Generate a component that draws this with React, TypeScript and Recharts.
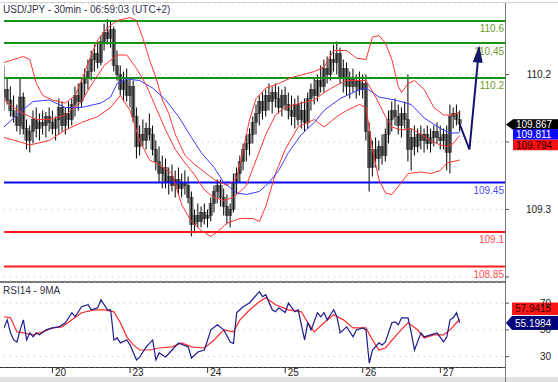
import React from "react";
import { ComposedChart, Bar, Line, XAxis, YAxis, CartesianGrid, ReferenceLine } from "recharts";

// hourly bars (index 0 = first bar on the 19th)
const opens = [
  110.05, 110.10, 110.03, 109.96, 109.92, 109.86, 110.05, 109.84, 109.76, 109.82,
  109.90, 109.84, 109.88, 109.86, 109.92, 109.88, 109.84, 109.90, 109.98, 109.86,
  109.94, 109.90, 110.00, 110.06, 110.02, 110.14, 110.18, 110.22, 110.30, 110.34,
  110.28, 110.42, 110.48, 110.44, 110.50, 110.26, 110.20, 110.10, 110.16, 110.06,
  110.12, 109.92, 109.72, 109.80, 109.76, 109.84, 109.80, 109.70, 109.62, 109.54,
  109.58, 109.48, 109.52, 109.46, 109.50, 109.44, 109.48, 109.46, 109.38, 109.20,
  109.26, 109.22, 109.28, 109.24, 109.26, 109.34, 109.42, 109.46, 109.38, 109.32,
  109.26, 109.30, 109.48, 109.54, 109.62, 109.70, 109.74, 109.80, 109.88, 109.94,
  110.02, 109.96, 110.06, 110.02, 110.08, 110.04, 109.98, 110.06, 110.00, 109.96,
  109.92, 110.00, 109.90, 109.96, 109.88, 110.04, 110.10, 110.06, 110.16, 110.12,
  110.24, 110.20, 110.30, 110.28, 110.34, 110.18, 110.24, 110.12, 110.18, 110.12,
  110.16, 110.10, 110.14, 109.82, 109.58, 109.70, 109.64, 109.72, 109.66, 109.80,
  109.90, 109.96, 109.92, 109.86, 109.94, 109.90, 109.70, 109.78, 109.72, 109.80,
  109.76, 109.80, 109.74, 109.78, 109.82, 109.78, 109.76, 109.80, 109.68, 109.92,
  109.94, 109.90,
];
const highs = [
  110.26, 110.18, 110.12, 110.06, 110.00, 110.18, 110.08, 109.90, 109.86, 109.96,
  109.98, 109.94, 109.96, 109.95, 109.98, 109.96, 109.92, 110.04, 110.02, 109.98,
  110.02, 110.04, 110.12, 110.14, 110.18, 110.24, 110.30, 110.36, 110.40, 110.42,
  110.46, 110.54, 110.57, 110.55, 110.52, 110.36, 110.26, 110.22, 110.24, 110.18,
  110.16, 109.98, 109.86, 109.90, 109.88, 109.94, 109.86, 109.76, 109.72, 109.66,
  109.64, 109.58, 109.60, 109.56, 109.58, 109.54, 109.56, 109.52, 109.42, 109.30,
  109.34, 109.32, 109.34, 109.30, 109.38, 109.46, 109.50, 109.50, 109.44, 109.40,
  109.34, 109.54, 109.58, 109.66, 109.74, 109.80, 109.84, 109.92, 110.00, 110.06,
  110.08, 110.10, 110.14, 110.12, 110.14, 110.12, 110.10, 110.12, 110.08, 110.06,
  110.04, 110.06, 110.02, 110.04, 110.08, 110.14, 110.18, 110.20, 110.26, 110.30,
  110.32, 110.36, 110.40, 110.42, 110.38, 110.30, 110.28, 110.22, 110.24, 110.20,
  110.22, 110.20, 110.20, 109.88, 109.76, 109.78, 109.76, 109.80, 109.84, 109.96,
  110.02, 110.04, 110.00, 109.98, 110.02, 110.20, 109.84, 109.86, 109.84, 109.86,
  109.84, 109.86, 109.84, 109.86, 109.88, 109.86, 109.84, 109.86, 110.00, 109.98,
  110.00, 109.96,
];
const lows = [
  109.96, 110.00, 109.92, 109.88, 109.82, 109.80, 109.80, 109.70, 109.68, 109.74,
  109.78, 109.76, 109.80, 109.78, 109.82, 109.80, 109.76, 109.80, 109.82, 109.80,
  109.84, 109.86, 109.92, 109.96, 109.98, 110.06, 110.10, 110.16, 110.22, 110.24,
  110.26, 110.36, 110.40, 110.38, 110.22, 110.16, 110.06, 110.02, 110.02, 109.98,
  109.88, 109.64, 109.66, 109.72, 109.70, 109.76, 109.66, 109.56, 109.48, 109.44,
  109.44, 109.40, 109.42, 109.38, 109.40, 109.38, 109.40, 109.34, 109.12, 109.14,
  109.18, 109.18, 109.20, 109.18, 109.22, 109.28, 109.34, 109.32, 109.26, 109.20,
  109.18, 109.28, 109.40, 109.48, 109.56, 109.62, 109.66, 109.74, 109.80, 109.86,
  109.90, 109.92, 109.96, 109.94, 109.98, 109.94, 109.92, 109.96, 109.90, 109.86,
  109.84, 109.86, 109.84, 109.82, 109.84, 109.96, 110.00, 110.02, 110.08, 110.08,
  110.14, 110.16, 110.22, 110.20, 110.14, 110.08, 110.06, 110.04, 110.08, 110.04,
  110.06, 110.04, 109.76, 109.42, 109.52, 109.58, 109.56, 109.60, 109.62, 109.74,
  109.82, 109.86, 109.80, 109.78, 109.84, 109.62, 109.56, 109.66, 109.68, 109.70,
  109.68, 109.70, 109.68, 109.72, 109.74, 109.70, 109.70, 109.56, 109.54, 109.84,
  109.86, 109.82,
];
const closes = [
  110.10, 110.03, 109.96, 109.92, 109.86, 110.05, 109.84, 109.76, 109.82, 109.90,
  109.84, 109.88, 109.86, 109.92, 109.88, 109.84, 109.90, 109.98, 109.86, 109.94,
  109.90, 110.00, 110.06, 110.02, 110.14, 110.18, 110.22, 110.30, 110.34, 110.28,
  110.42, 110.48, 110.44, 110.50, 110.26, 110.20, 110.10, 110.16, 110.06, 110.12,
  109.92, 109.72, 109.80, 109.76, 109.84, 109.80, 109.70, 109.62, 109.54, 109.58,
  109.48, 109.52, 109.46, 109.50, 109.44, 109.48, 109.46, 109.38, 109.20, 109.26,
  109.22, 109.28, 109.24, 109.26, 109.34, 109.42, 109.46, 109.38, 109.32, 109.26,
  109.30, 109.48, 109.54, 109.62, 109.70, 109.74, 109.80, 109.88, 109.94, 110.02,
  109.96, 110.06, 110.02, 110.08, 110.04, 109.98, 110.06, 110.00, 109.96, 109.92,
  110.00, 109.90, 109.96, 109.88, 110.04, 110.10, 110.06, 110.16, 110.12, 110.24,
  110.20, 110.30, 110.28, 110.34, 110.18, 110.24, 110.12, 110.18, 110.12, 110.16,
  110.10, 110.14, 109.82, 109.58, 109.70, 109.64, 109.72, 109.66, 109.80, 109.90,
  109.96, 109.92, 109.86, 109.94, 109.90, 109.70, 109.78, 109.72, 109.80, 109.76,
  109.80, 109.74, 109.78, 109.82, 109.78, 109.76, 109.80, 109.68, 109.92, 109.94,
  109.90, 109.87,
];

// indicator lines, read as [bar index, value]
const upperBand: [number, number][] = [
  [0, 110.28], [6, 110.32], [8, 110.3], [10, 110.14], [12, 110.06], [15, 110.03], [19, 110.01],
  [22, 110.06], [24, 110.16], [27, 110.33], [29, 110.43], [32, 110.51], [35, 110.56], [39, 110.58],
  [41, 110.56], [43, 110.44], [45, 110.3], [47, 110.18], [49, 110.03], [51, 109.94], [53, 109.8],
  [56, 109.66], [59, 109.6], [62, 109.55], [65, 109.5], [69, 109.46], [72, 109.51], [74, 109.7],
  [76, 109.9], [78, 110.04], [81, 110.11], [85, 110.14], [89, 110.18], [96, 110.22], [99, 110.25],
  [102, 110.36], [106, 110.36], [109, 110.31], [112, 110.3], [114, 110.45], [116, 110.46],
  [118, 110.41], [120, 110.3], [122, 110.12], [123, 110.08], [125, 110.14], [127, 110.16],
  [130, 110.1], [133, 109.98], [136, 109.93], [139, 109.93], [141, 109.95],
];
const middleBand: [number, number][] = [
  [0, 110.03], [5, 109.95], [10, 109.9], [14, 109.9], [19, 109.93], [24, 110.02], [27, 110.13],
  [31, 110.26], [35, 110.33], [38, 110.33], [41, 110.24], [44, 110.13], [47, 109.98], [50, 109.83],
  [53, 109.7], [56, 109.61], [59, 109.53], [62, 109.43], [65, 109.38], [68, 109.36], [71, 109.38],
  [75, 109.46], [78, 109.63], [81, 109.8], [84, 109.93], [87, 109.98], [92, 110.01], [96, 110.03],
  [99, 110.08], [103, 110.13], [106, 110.16], [110, 110.16], [112, 110.16], [115, 110.05],
  [118, 109.92], [120, 109.85], [123, 109.83], [126, 109.84], [129, 109.8], [132, 109.76],
  [135, 109.73], [137, 109.72], [139, 109.74], [141, 109.794],
];
const lowerBand: [number, number][] = [
  [0, 109.78], [5, 109.75], [8, 109.73], [14, 109.76], [19, 109.83], [24, 109.88], [29, 109.92],
  [33, 109.98], [36, 110.06], [39, 109.96], [42, 109.76], [45, 109.63], [48, 109.6], [52, 109.54],
  [55, 109.33], [58, 109.22], [61, 109.16], [64, 109.12], [66, 109.15], [69, 109.21], [73, 109.24],
  [77, 109.24], [79, 109.22], [81, 109.32], [84, 109.54], [87, 109.7], [91, 109.85], [96, 109.9],
  [99, 109.85], [103, 109.92], [106, 109.96], [110, 110.0], [112, 109.98], [114, 109.7],
  [116, 109.5], [118, 109.41], [120, 109.4], [123, 109.48], [125, 109.54], [129, 109.55],
  [132, 109.54], [135, 109.56], [137, 109.61], [141, 109.63],
];
const blueMa: [number, number][] = [
  [0, 109.85], [5, 109.95], [9, 110.02], [14, 110.03], [19, 109.98], [24, 109.98], [30, 110.01],
  [33, 110.05], [35, 110.14], [38, 110.17], [42, 110.16], [46, 110.11], [50, 110.03], [54, 109.92],
  [58, 109.78], [61, 109.68], [65, 109.58], [68, 109.48], [72, 109.41], [75, 109.4], [79, 109.42],
  [82, 109.48], [85, 109.56], [88, 109.68], [92, 109.8], [96, 109.88], [99, 109.96], [104, 110.04],
  [109, 110.09], [112, 110.11], [114, 110.08], [116, 110.05], [121, 110.03], [126, 110.0],
  [130, 109.91], [135, 109.84], [138, 109.81], [141, 109.811],
];
const projection: [number, number][] = [[141, 109.867], [144, 109.7], [147, 110.38]];

const rsi14: [number, number][] = [
  [0, 51.5], [1, 57.5], [2, 47.8], [3, 42.5], [4, 41], [5, 50], [6, 57.5], [7, 42.5], [8, 47.8],
  [9, 44.8], [10, 47.8], [11, 46.3], [13, 50], [15, 51.5], [17, 52.3], [19, 55.3], [21, 62.8],
  [22, 59.8], [24, 67.3], [26, 68.8], [27, 65], [29, 66.5], [30, 72.5], [32, 65], [33, 65],
  [34, 42.5], [35, 44], [36, 40.3], [38, 42.5], [39, 38.8], [41, 27.5], [42, 29.8], [44, 37.3],
  [46, 42.5], [47, 27.5], [48, 32.8], [50, 29.8], [52, 35], [54, 40.3], [57, 37.3], [58, 29],
  [60, 33.5], [62, 35], [64, 50], [66, 53.8], [68, 50], [70, 41], [71, 40], [72, 63], [74, 67.3],
  [76, 70.3], [79, 78.5], [80, 74.8], [81, 76.3], [83, 65], [84, 63.5], [85, 66.5], [87, 63],
  [88, 70], [90, 63.5], [91, 65], [93, 42.5], [94, 55.3], [95, 50], [97, 62.8], [98, 59.8],
  [99, 62.8], [100, 57.5], [102, 65], [103, 59.8], [104, 47.8], [106, 52.3], [108, 44.8],
  [109, 50], [111, 51.5], [112, 50], [113, 25.3], [114, 35], [116, 40.3], [117, 38.8], [118, 41],
  [120, 55.3], [121, 56], [122, 53.8], [123, 59], [125, 59], [126, 47.8], [127, 35], [129, 47.8],
  [130, 44.8], [132, 46.3], [134, 47.8], [136, 41], [137, 44.8], [138, 57.5], [139, 59],
  [140, 62.8], [141, 55.1984],
];
const rsiMa9: [number, number][] = [
  [0, 59.8], [2, 59], [4, 48.5], [6, 47.8], [9, 46.3], [12, 48.5], [15, 51.5], [18, 52.3],
  [21, 57.5], [24, 62.8], [28, 65], [31, 65], [34, 63.5], [36, 55.3], [38, 44.8], [40, 38.8],
  [42, 35], [45, 35], [48, 36.5], [52, 37.3], [55, 40.3], [58, 37.3], [62, 36.5], [65, 42.5],
  [68, 50], [71, 48.5], [73, 57.5], [76, 65], [79, 71], [81, 74], [84, 68.8], [88, 65], [92, 63.5],
  [94, 55.3], [96, 48.5], [99, 55.3], [102, 61.3], [105, 57.5], [108, 51.5], [112, 51.5],
  [114, 42.5], [116, 35], [118, 36.5], [122, 47.8], [125, 55.3], [128, 50], [130, 44], [133, 46.3],
  [136, 46.3], [138, 50], [141, 57.9415],
];

const dayTicks = [15, 39, 63, 87, 111, 135];
const dayLabels = ["20", "23", "24", "25", "26", "27"];
const priceTicks = [110.2, 109.75, 109.3, 108.85];
const priceTickLabels = ["110.2", "", "109.3", ""];
const rsiTicks = [70, 50, 30];

const levelValues = [110.557, 110.41, 110.177, 109.48, 109.15, 108.92];
const levelLabels = ["110.6", "110.45", "110.2", "109.45", "109.1", "108.85"];
const levelKinds = ["g", "g", "g", "b", "r", "r"];

const lastClose = 109.867;
const lastBlueMa = 109.811;
const lastMiddle = 109.794;
const lastRsi = 55.1984;
const lastRsiMa = 57.9415;

const SLOTS = 155;
const FONT = '"Liberation Sans", Arial, sans-serif';

const levelColor: Record<string, string> = { g: "#149414", b: "#0a0aee", r: "#ff1c1c" };
const levelText: Record<string, string> = { g: "#6c9c2c", b: "#4c4cff", r: "#ff4c4c" };

const rows: any[] = Array.from({ length: SLOTS + 1 }, (_, i) => {
  const r: any = { i };
  if (i < closes.length) {
    r.o = opens[i];
    r.h = highs[i];
    r.l = lows[i];
    r.c = closes[i];
    r.range = [lows[i], highs[i]];
  }
  return r;
});
const put = (key: string, pts: [number, number][]) => pts.forEach(([i, v]) => (rows[i][key] = v));
put("up", upperBand);
put("mid", middleBand);
put("low", lowerBand);
put("ma", blueMa);
put("proj", projection);
put("rsi", rsi14);
put("rsiMa", rsiMa9);

const Candle = (props: any) => {
  const { x, y, width, height, payload } = props;
  if (!payload || payload.c == null) return <g />;
  const top = Math.min(y, y + height);
  const hgt = Math.abs(height) || 1;
  const k = hgt / (payload.h - payload.l);
  const yo = top + (payload.h - payload.o) * k;
  const yc = top + (payload.h - payload.c) * k;
  const cx = x + width / 2;
  return (
    <g>
      <rect
        x={cx - 1.7}
        y={Math.min(yo, yc)}
        width={3.4}
        height={Math.max(1.5, Math.abs(yc - yo))}
        fill="#7a7a7a"
        stroke="#3a3a3a"
        strokeWidth={0.5}
      />
      <line x1={cx} x2={cx} y1={top} y2={top + hgt} stroke="#000" strokeWidth={1} />
    </g>
  );
};

const ArrowHead = (props: any) => {
  const { cx, cy, payload, points } = props;
  const lastI = projection[projection.length - 1][0];
  if (cx == null || cy == null || !payload || payload.i !== lastI) return <g key={props.key} />;
  let dx = 0;
  let dy = -1;
  const pts = (points || []).filter((p: any) => p && p.y != null && p.value != null);
  if (pts.length >= 2) {
    const a = pts[pts.length - 2];
    dx = cx - a.x;
    dy = cy - a.y;
    const n = Math.hypot(dx, dy) || 1;
    dx /= n;
    dy /= n;
  }
  const len = 15;
  const half = 5;
  const bx = cx - dx * len;
  const by = cy - dy * len;
  return (
    <polygon
      key={props.key}
      points={`${cx + dx * 2},${cy + dy * 2} ${bx - dy * half},${by + dx * half} ${bx + dy * half},${by - dx * half}`}
      fill="#14146e"
    />
  );
};

const PriceTick = (props: any) => {
  const { x, y, payload } = props;
  const label = priceTickLabels[priceTicks.indexOf(payload.value)] || "";
  return (
    <text x={x + 40} y={y} dy={3.5} textAnchor="end" fontSize={10} fontFamily={FONT} fill="#222">
      {label}
    </text>
  );
};

const RsiTick = (props: any) => {
  const { x, y, payload } = props;
  return (
    <text x={x + 40} y={y} dy={3.5} textAnchor="end" fontSize={10} fontFamily={FONT} fill="#222">
      {payload.value}
    </text>
  );
};

const DayTick = (props: any) => {
  const { x, y, payload } = props;
  const label = dayLabels[dayTicks.indexOf(payload.value)] || "";
  return (
    <text x={x + 2.5} y={y + 3} fontSize={10} fontFamily={FONT} fill="#222">
      {label}
    </text>
  );
};

// value flag on the right of the plot, centre shifted by dy
const Flag = (props: any) => {
  const { viewBox, text, bg, color, dy = 0, h = 10.5, arrow = false, gap = 8 } = props;
  if (!viewBox) return null;
  const right = viewBox.x + viewBox.width;
  const cy = viewBox.y + dy;
  const x0 = right + gap;
  return (
    <g>
      {arrow && <polygon points={`${right + 1},${cy} ${x0},${cy - h / 2} ${x0},${cy + h / 2}`} fill={bg} />}
      <rect x={x0} y={cy - h / 2} width={558 - x0} height={h} fill={bg} />
      <text x={x0 + 3} y={cy} dy={3.6} fontSize={10} fontFamily={FONT} fill={color}>
        {text}
      </text>
    </g>
  );
};

const LevelLabel = (props: any) => {
  const { viewBox, text, color } = props;
  if (!viewBox) return null;
  return (
    <text x={viewBox.x + viewBox.width - 1} y={viewBox.y + 11.5} textAnchor="end" fontSize={10} fontFamily={FONT} fill={color}>
      {text}
    </text>
  );
};

const box = (style: React.CSSProperties): React.CSSProperties => ({ position: "absolute", ...style });

export default function App() {
  return (
    <div style={box({ left: 0, top: 0, width: 558, height: 382, background: "#fff", overflow: "hidden", fontFamily: FONT })}>
      <div style={box({ left: 0, top: 2, width: 558, height: 1, background: "#d4d4d4" })} />
      <div style={box({ left: 0, top: 377, width: 558, height: 5, background: "#e2e2e2" })} />
      <div style={box({ left: 0, top: 281, width: 505, height: 2, background: "#777" })} />
      <div style={box({ left: 0, top: 367, width: 505, height: 1, background: "#333" })} />
      <div style={box({ left: 504.5, top: 3, width: 1.5, height: 379, background: "#777" })} />

      <div style={box({ left: 0, top: 0 })}>
        <ComposedChart width={558} height={290} data={rows} margin={{ top: 3, right: 0, bottom: 9, left: 4 }}>
          <CartesianGrid vertical={false} stroke="#bdbdbd" strokeDasharray="1 5" />
          <XAxis dataKey="i" type="number" domain={[0, SLOTS]} allowDataOverflow hide />
          <YAxis
            orientation="right"
            domain={[108.823, 110.677]}
            allowDataOverflow
            ticks={priceTicks}
            width={53}
            axisLine={false}
            tickSize={4}
            tickMargin={2}
            tickLine={{ stroke: "#555" }}
            tick={<PriceTick />}
          />
          {levelValues.map((v, k) => (
            <ReferenceLine
              key={`lvl-${k}`}
              y={v}
              stroke={levelColor[levelKinds[k]]}
              strokeWidth={2}
              label={<LevelLabel text={levelLabels[k]} color={levelText[levelKinds[k]]} />}
            />
          ))}
          <Line dataKey="up" stroke="#ff3333" strokeWidth={1} dot={false} connectNulls isAnimationActive={false} />
          <Line dataKey="low" stroke="#ff3333" strokeWidth={1} dot={false} connectNulls isAnimationActive={false} />
          <Line dataKey="ma" stroke="#3a3aff" strokeWidth={1} dot={false} connectNulls isAnimationActive={false} />
          <Bar dataKey="range" barSize={3} isAnimationActive={false} shape={(p: any) => <Candle {...p} />} />
          <Line dataKey="mid" stroke="#ff3333" strokeWidth={1} dot={false} connectNulls isAnimationActive={false} />
          <Line
            dataKey="proj"
            stroke="#14146e"
            strokeWidth={2}
            dot={(p: any) => <ArrowHead {...p} />}
            connectNulls
            isAnimationActive={false}
          />
          <ReferenceLine
            y={lastClose}
            stroke="none"
            label={<Flag text={lastClose.toFixed(3)} bg="#000" color="#fff" arrow />}
          />
          <ReferenceLine
            y={lastBlueMa}
            stroke="none"
            label={<Flag text={lastBlueMa.toFixed(3)} bg="#0a0aff" color="#fff" dy={1.6} />}
          />
          <ReferenceLine
            y={lastMiddle}
            stroke="none"
            label={<Flag text={lastMiddle.toFixed(3)} bg="#ff1010" color="#2a0000" dy={9.6} />}
          />
        </ComposedChart>
      </div>

      <div style={box({ left: 3, top: 4, fontSize: 10, color: "#33334a", whiteSpace: "nowrap" })}>
        USD/JPY - 30min - 06:59:03 (UTC+2)
      </div>

      <div style={box({ left: 0, top: 282 })}>
        <ComposedChart width={558} height={100} data={rows} margin={{ top: 0, right: 0, bottom: 0, left: 4 }}>
          <CartesianGrid vertical={false} stroke="#bdbdbd" strokeDasharray="1 5" />
          <XAxis
            dataKey="i"
            type="number"
            domain={[0, SLOTS]}
            allowDataOverflow
            ticks={dayTicks}
            interval={0}
            height={15}
            axisLine={false}
            tickSize={6}
            tickMargin={0}
            tickLine={{ stroke: "#333" }}
            tick={<DayTick />}
          />
          <YAxis
            orientation="right"
            domain={[22.3, 85.75]}
            allowDataOverflow
            ticks={rsiTicks}
            width={53}
            axisLine={false}
            tickSize={4}
            tickMargin={2}
            tickLine={{ stroke: "#555" }}
            tick={<RsiTick />}
          />
          <Line dataKey="rsiMa" stroke="#ff2a2a" strokeWidth={1.2} dot={false} connectNulls isAnimationActive={false} />
          <Line dataKey="rsi" stroke="#1c1c8c" strokeWidth={1.2} dot={false} connectNulls isAnimationActive={false} />
          <ReferenceLine
            y={lastRsiMa}
            stroke="none"
            label={<Flag text={lastRsiMa.toFixed(4)} bg="#ff1818" color="#3a0000" dy={-10.5} h={12.5} gap={7} />}
          />
          <ReferenceLine
            y={lastRsi}
            stroke="none"
            label={<Flag text={lastRsi.toFixed(4)} bg="#00007c" color="#fff" dy={0} h={14} gap={7} arrow />}
          />
        </ComposedChart>
      </div>

      <div style={box({ left: 3, top: 285, fontSize: 10, color: "#33334a", whiteSpace: "nowrap" })}>RSI14 - 9MA</div>
    </div>
  );
}
